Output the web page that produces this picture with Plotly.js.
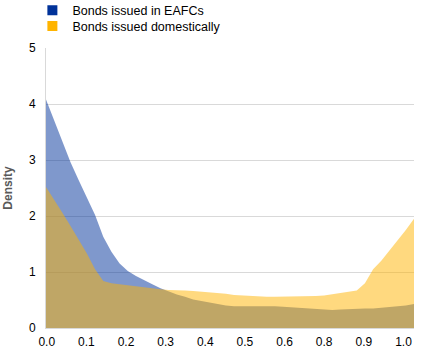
<!DOCTYPE html>
<html>
<head>
<meta charset="utf-8">
<script src="https://cdn.plot.ly/plotly-3.0.1.min.js"></script>
<style>html,body{margin:0;padding:0;background:#fff;}#chart{width:437px;height:356px;}</style>
</head>
<body>
<div id="chart"></div>
<script>
// sample positions along the horizontal axis (index units)
const xIndex = [0,1,2,3,4,5,6,7,8,9,10,11,12,13,14,15,16,17,18,19,20,21,22,23,24,25,26,27,28,29,30,31,32,33,34,35,36,37,38,39,40,41,42,43,44,45];
const tickLabels = ["0.0","0.1","0.2","0.3","0.4","0.5","0.6","0.8","0.9","1.0"];

const eafcDensity = [4.08,3.70,3.31,2.96,2.64,2.32,2.02,1.63,1.36,1.15,1.02,0.93,0.85,0.78,0.71,0.65,0.60,0.56,0.51,0.48,0.45,0.42,0.40,0.39,0.39,0.40,0.39,0.39,0.39,0.38,0.37,0.36,0.34,0.33,0.32,0.32,0.33,0.34,0.34,0.35,0.35,0.36,0.37,0.38,0.40,0.43];
const domesticDensity = [2.52,2.30,2.06,1.82,1.58,1.33,1.05,0.84,0.80,0.78,0.76,0.74,0.72,0.71,0.69,0.68,0.68,0.67,0.66,0.65,0.64,0.62,0.61,0.59,0.58,0.58,0.57,0.56,0.56,0.56,0.56,0.56,0.57,0.57,0.58,0.60,0.62,0.64,0.67,0.80,1.05,1.20,1.38,1.57,1.75,1.95];

const seriesNames = ["Bonds issued in EAFCs","Bonds issued domestically"];
const seriesColors = ["#003299","#ffb400"];
const seriesFills = ["rgba(0,50,153,0.5)","rgba(255,180,0,0.5)"];

const font = "Liberation Sans, Arial, sans-serif";
const labelSpacing = 4.847, labelOffset = 0.09;
const tickVals = tickLabels.map((_, k) => labelOffset + k * labelSpacing);

const traces = [];
[eafcDensity, domesticDensity].forEach((ys, i) => {
  traces.push({
    x: xIndex, y: ys, type: "scatter", mode: "lines",
    fill: "tozeroy", fillcolor: seriesFills[i],
    line: {width: 0, color: seriesFills[i]},
    showlegend: false, hoverinfo: "skip"
  });
});
const legendIds = ["legend", "legend2"];
seriesNames.forEach((n, i) => {
  traces.push({
    x: [null], y: [null], type: "scatter", mode: "markers", name: n,
    legend: legendIds[i],
    marker: {symbol: "square", size: 10, color: seriesColors[i]}
  });
});

const legendBase = {x: -0.037, xanchor: "left", yanchor: "top",
  font: {family: font, size: 12.5, color: "#000"}, bgcolor: "rgba(0,0,0,0)"};

const layout = {
  width: 437, height: 356,
  margin: {l: 46, r: 23, t: 48, b: 28, autoexpand: false},
  paper_bgcolor: "#fff", plot_bgcolor: "#fff",
  font: {family: font, size: 12, color: "#000"},
  showlegend: true,
  legend: Object.assign({}, legendBase, {y: 1.1875}),
  legend2: Object.assign({}, legendBase, {y: 1.1304}),
  xaxis: {
    range: [0, 45], tickmode: "array", tickvals: tickVals, ticktext: tickLabels,
    showgrid: false, zeroline: false, showline: true, linecolor: "#d9d9d9", linewidth: 1,
    ticks: "outside", ticklen: 3, tickcolor: "rgba(0,0,0,0)",
    tickfont: {family: font, size: 12, color: "#000"}, fixedrange: true
  },
  yaxis: {
    range: [0, 5], dtick: 1, tick0: 0,
    showgrid: true, gridcolor: "#d9d9d9", gridwidth: 1,
    zeroline: false, showline: true, linecolor: "#d9d9d9", linewidth: 1,
    ticks: "outside", ticklen: 7, tickcolor: "rgba(0,0,0,0)",
    tickfont: {family: font, size: 12, color: "#000"},
    title: {text: "Density", font: {family: font, size: 12, color: "#595959", weight: "bold"}},
    automargin: false,
    fixedrange: true
  }
};

Plotly.newPlot("chart", traces, layout, {staticPlot: true, displayModeBar: false});
</script>
</body>
</html>
